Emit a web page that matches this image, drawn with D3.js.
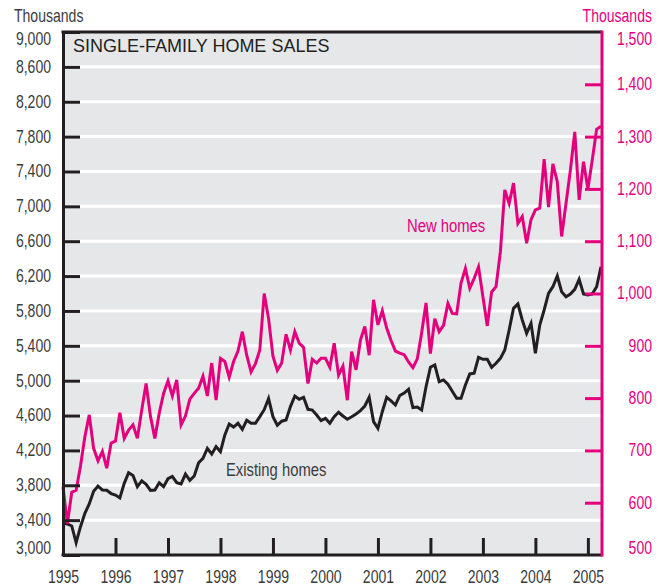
<!DOCTYPE html>
<html>
<head>
<meta charset="utf-8">
<script src="https://cdn.jsdelivr.net/npm/d3@7"></script>
<style>
  body { margin: 0; background: #fff; }
  svg text { font-family: "Liberation Sans", Arial, sans-serif; }
</style>
</head>
<body>
<svg id="drawspace" width="665" height="586"></svg>
<script>
// Selecting the svg element
let drawSpace = d3.select("#drawspace");

// monthly series, first value = Jan 1995, last = Apr 2005 (thousands, annual rate)
const startYear = 1995;
const years = [1995, 1996, 1997, 1998, 1999, 2000, 2001, 2002, 2003, 2004, 2005];
const leftTicks = [3000, 3400, 3800, 4200, 4600, 5000, 5400, 5800, 6200, 6600, 7000, 7400, 7800, 8200, 8600, 9000];
const rightTicks = [500, 600, 700, 800, 900, 1000, 1100, 1200, 1300, 1400, 1500];

const existingHomes = [
  3364, 3356, 3333, 3141, 3325, 3478, 3585, 3730, 3790, 3746,
  3742, 3705, 3688, 3655, 3822, 3944, 3912, 3784, 3850, 3810,
  3742, 3746, 3828, 3784, 3875, 3902, 3830, 3815, 3929, 3856,
  3906, 4059, 4109, 4224, 4159, 4243, 4185, 4377, 4503, 4468,
  4511, 4442, 4546, 4511, 4511, 4587, 4667, 4795, 4587, 4488,
  4535, 4549, 4702, 4824, 4786, 4809, 4671, 4663, 4606, 4541,
  4568, 4511, 4587, 4637, 4595, 4557, 4587, 4618, 4656, 4709,
  4809, 4530, 4453, 4644, 4809, 4768, 4721, 4830, 4858, 4901,
  4692, 4698, 4663, 4930, 5155, 5180, 4988, 5008, 4960, 4878,
  4797, 4797, 4950, 5077, 5085, 5268, 5245, 5245, 5153, 5199,
  5256, 5352, 5581, 5830, 5880, 5696, 5543, 5658, 5314, 5639,
  5811, 6002, 6078, 6201, 6021, 5963, 5994, 6048, 6163, 5994,
  5983, 5994, 6078, 6307
];

const newHomes = [
  630, 560, 620, 624, 670, 726, 768, 704, 680, 698,
  666, 714, 718, 772, 723, 739, 749, 723, 777, 828,
  765, 723, 771, 809, 833, 804, 835, 749, 766, 798,
  809, 819, 842, 804, 867, 796, 876, 870, 840, 870,
  890, 927, 882, 850, 866, 892, 1000, 952, 880, 853,
  867, 922, 892, 927, 905, 897, 828, 874, 867, 876,
  876, 859, 905, 844, 861, 796, 889, 854, 911, 937,
  882, 988, 940, 967, 934, 910, 890, 886, 883, 869,
  858, 875, 925, 982, 885, 952, 927, 939, 981, 962,
  961, 1020, 1048, 1010, 1029, 1051, 994, 938, 1003, 1013,
  1080, 1198, 1172, 1211, 1134, 1147, 1096, 1141, 1160, 1163,
  1257, 1165, 1248, 1214, 1109, 1172, 1236, 1309, 1179, 1252,
  1200, 1255, 1314, 1320
];

const pink = "#e4007d";
const ink = "#231f20";
const grey = "#3c3c3c";

// plot area
let plotL = 63, plotR = 602, plotT = 32, plotB = 555;

let xScale = d3.scaleLinear().domain([1995, 2005.25]).range([63, 601]);
let yLeft = d3.scaleLinear().domain([3000, 9000]).range([plotB, plotT]);
let yRight = d3.scaleLinear().domain([500, 1500]).range([plotB, plotT]);

let monthX = (d, i) => xScale(startYear + i / 12);

// squeeze text horizontally to mimic a condensed face (no narrow font installed)
function narrow(sel) {
  sel.each(function () {
    let t = d3.select(this);
    let x = +t.attr("x") || 0, y = +t.attr("y") || 0;
    t.attr("x", 0).attr("y", 0)
      .attr("transform", `translate(${x},${y}) scale(0.78,1)`);
  });
}

// background
drawSpace.append("rect")
  .attr("x", plotL).attr("y", plotT)
  .attr("width", plotR - plotL).attr("height", plotB - plotT)
  .attr("fill", "#e6e7e8");

// white gridlines
drawSpace.append("g")
  .selectAll("line")
  .data(leftTicks.filter(d => d > 3000 && d < 9000))
  .enter()
  .append("line")
  .attr("x1", plotL).attr("x2", plotR)
  .attr("y1", d => yLeft(d)).attr("y2", d => yLeft(d))
  .attr("stroke", "#fff")
  .attr("stroke-width", 3);

// lines
let existingLine = d3.line().x(monthX).y(d => yLeft(d));
let newLine = d3.line().x(monthX).y(d => yRight(d));

drawSpace.append("path")
  .attr("d", existingLine(existingHomes))
  .attr("fill", "none")
  .attr("stroke", ink)
  .attr("stroke-width", 3)
  .attr("stroke-linejoin", "miter");

drawSpace.append("path")
  .attr("d", newLine(newHomes))
  .attr("fill", "none")
  .attr("stroke", pink)
  .attr("stroke-width", 3)
  .attr("stroke-linejoin", "miter");

// top border
drawSpace.append("line")
  .attr("x1", plotL - 1.5).attr("x2", plotR)
  .attr("y1", plotT).attr("y2", plotT)
  .attr("stroke", ink).attr("stroke-width", 3);

// left axis
let leftAxis = drawSpace.append("g")
  .attr("transform", `translate(${plotL},0)`)
  .call(d3.axisLeft(yLeft).tickValues(leftTicks).tickSize(-17).tickSizeOuter(0).tickPadding(12)
    .tickFormat(d3.format(",")));
leftAxis.selectAll("line").attr("stroke", ink).attr("stroke-width", 3);
leftAxis.select(".domain").attr("stroke", ink).attr("stroke-width", 3);
leftAxis.selectAll("text")
  .attr("fill", grey)
  .style("font-size", "18px")
  .attr("dy", d => d == 9000 ? "0.7em" : d == 3000 ? "-0.1em" : "0.3em")
  .call(narrow);

// bottom axis
let bottomAxis = drawSpace.append("g")
  .attr("transform", `translate(0,${plotB})`)
  .call(d3.axisBottom(xScale).tickValues(years).tickSize(-17).tickSizeOuter(0).tickPadding(15)
    .tickFormat(d3.format("d")));
bottomAxis.selectAll("line").attr("stroke", ink).attr("stroke-width", 3);
bottomAxis.select(".domain").attr("stroke", ink).attr("stroke-width", 3)
  .attr("d", `M${plotL - 1.5},0H${plotR}`);
bottomAxis.selectAll("text").attr("fill", grey).style("font-size", "18px").call(narrow);

// right axis (new homes)
let rightAxis = drawSpace.append("g")
  .attr("transform", `translate(${plotR},0)`)
  .call(d3.axisRight(yRight).tickValues(rightTicks).tickSize(-17).tickSizeOuter(0)
    .tickFormat(d3.format(",")));
rightAxis.selectAll("line").attr("stroke", pink).attr("stroke-width", 3);
rightAxis.select(".domain").attr("stroke", pink).attr("stroke-width", 3)
  .attr("d", `M0,${plotT - 1.5}V${plotB + 1.5}`);
rightAxis.selectAll("text")
  .attr("fill", pink)
  .attr("x", 50)
  .attr("text-anchor", "end")
  .style("font-size", "18px")
  .attr("dy", d => d == 1500 ? "0.7em" : d == 500 ? "-0.1em" : "0.3em")
  .call(narrow);
rightAxis.selectAll(".tick").filter(d => d == 1500 || d == 500).select("line").remove();

// units
drawSpace.append("text")
  .attr("x", 14).attr("y", 22)
  .attr("fill", grey)
  .style("font-size", "18px")
  .text("Thousands")
  .call(narrow);

drawSpace.append("text")
  .attr("x", 652).attr("y", 22)
  .attr("text-anchor", "end")
  .attr("fill", pink)
  .style("font-size", "18px")
  .text("Thousands")
  .call(narrow);

// title
drawSpace.append("text")
  .attr("x", 73).attr("y", 52)
  .attr("fill", ink)
  .style("font-size", "18px")
  .text("SINGLE-FAMILY HOME SALES");

// series labels
drawSpace.append("text")
  .attr("x", 407).attr("y", 232)
  .attr("fill", pink)
  .style("font-size", "19px")
  .text("New homes")
  .call(narrow);

drawSpace.append("text")
  .attr("x", 226).attr("y", 476)
  .attr("fill", grey)
  .style("font-size", "19px")
  .text("Existing homes")
  .call(narrow);
</script>
</body>
</html>
